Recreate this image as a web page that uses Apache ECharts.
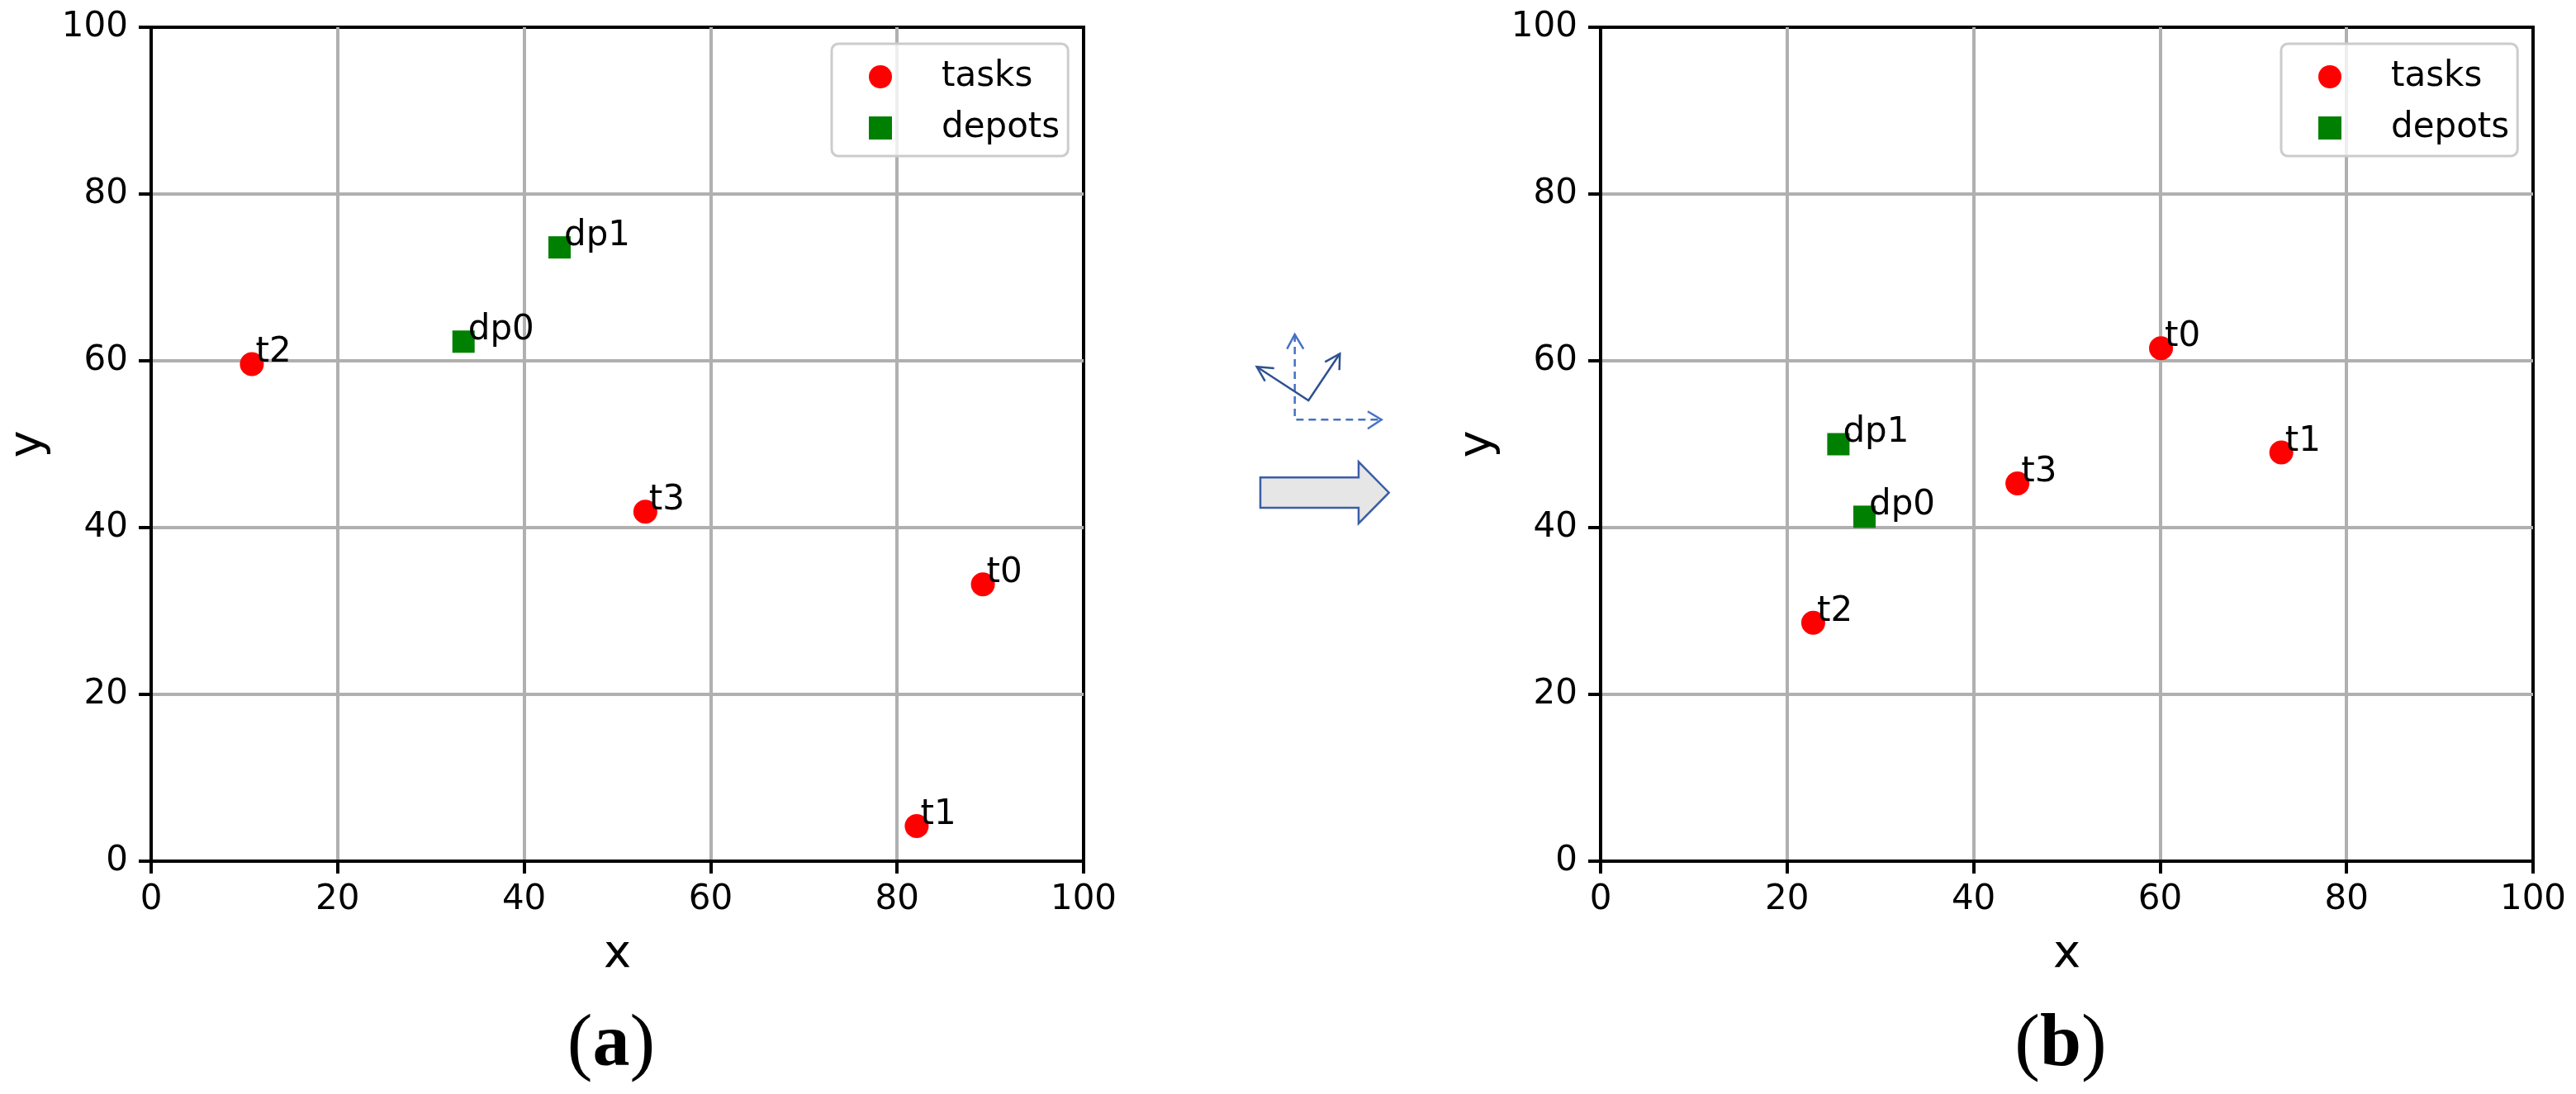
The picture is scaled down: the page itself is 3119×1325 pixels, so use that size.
<!DOCTYPE html>
<html>
<head>
<meta charset="utf-8">
<script src="https://cdn.jsdelivr.net/npm/echarts@6.0.0/dist/echarts.min.js"></script>
<style>
  html, body { margin: 0; padding: 0; background: #fff; }
  #main { width: 3119px; height: 1325px; }
</style>
</head>
<body>
<div id="main"></div>
<script>
// (a) before the transform
var taskNames = ['t0', 't1', 't2', 't3'];
var depotNames = ['dp0', 'dp1'];
var tasksAX = [89.2, 82.1, 10.8, 53.0];
var tasksAY = [33.2, 4.2, 59.6, 41.9];
var depotsAX = [33.5, 43.8];
var depotsAY = [62.3, 73.6];
// (b) after the transform
var tasksBX = [60.1, 73.0, 22.8, 44.7];
var tasksBY = [61.5, 49.0, 28.6, 45.3];
var depotsBX = [28.3, 25.5];
var depotsBY = [41.3, 50.0];
var axisTicks = [0, 20, 40, 60, 80, 100];
var panelLabels = ['a', 'b'];

var FONT = 'DejaVu Sans';
var gridLeft = [183, 1938];

function points(xs, ys, names) {
    return xs.map(function (x, i) { return { name: names[i], value: [x, ys[i]] }; });
}

function xAxisFor(idx) {
    return {
        gridIndex: idx, type: 'value',
        min: axisTicks[0], max: axisTicks[axisTicks.length - 1], interval: axisTicks[1] - axisTicks[0],
        name: 'x', nameLocation: 'middle', nameGap: 85,
        nameTextStyle: { fontFamily: FONT, fontSize: 56, color: '#000', lineHeight: 56 },
        axisLine: { show: true, lineStyle: { color: '#000', width: 4 } },
        axisTick: { show: true, length: 15, lineStyle: { color: '#000', width: 4 } },
        axisLabel: { fontFamily: FONT, fontSize: 42, color: '#000', margin: 26, lineHeight: 42 },
        splitLine: { show: true, showMinLine: false, showMaxLine: false, lineStyle: { color: '#b0b0b0', width: 4 } }
    };
}

function yAxisFor(idx) {
    return {
        gridIndex: idx, type: 'value',
        min: axisTicks[0], max: axisTicks[axisTicks.length - 1], interval: axisTicks[1] - axisTicks[0],
        name: 'y', nameLocation: 'middle', nameGap: 121,
        nameTextStyle: { fontFamily: FONT, fontSize: 56, color: '#000', lineHeight: 56 },
        axisLine: { show: true, lineStyle: { color: '#000', width: 4 } },
        axisTick: { show: true, length: 15, lineStyle: { color: '#000', width: 4 } },
        axisLabel: { fontFamily: FONT, fontSize: 42, color: '#000', margin: 28 },
        splitLine: { show: true, showMinLine: false, showMaxLine: false, lineStyle: { color: '#b0b0b0', width: 4 } }
    };
}

function pointLabel(px, py) {
    return {
        show: true, position: [px, py], align: 'left', verticalAlign: 'bottom',
        formatter: '{b}', fontFamily: FONT, fontSize: 42, lineHeight: 42, color: '#000'
    };
}

function scatterSeries(name, idx, data, symbol, size, color) {
    return {
        name: name, type: 'scatter', xAxisIndex: idx, yAxisIndex: idx,
        symbol: symbol, symbolSize: size, data: data,
        itemStyle: { color: color, opacity: 1 },
        label: symbol === 'circle' ? pointLabel(19, 22) : pointLabel(19, 21),
        emphasis: { disabled: true }
    };
}

function legendFor(idx) {
    return {
        orient: 'vertical', left: gridLeft[idx] + 824, top: 53,
        padding: [19, 10, 13, 45], itemGap: 20, itemWidth: 28, itemHeight: 28,
        backgroundColor: 'rgba(255,255,255,0.8)', borderColor: '#cccccc', borderWidth: 3, borderRadius: 8,
        textStyle: { fontFamily: FONT, fontSize: 42, color: '#000', lineHeight: 40, padding: [0, 0, 0, 55] },
        data: [{ name: 'tasks', icon: 'circle' }, { name: 'depots', icon: 'rect' }],
        selectedMode: false
    };
}

function panelLabel(cx, letter) {
    return {
        type: 'text', x: cx, y: 1267,
        style: {
            text: '{p|(}{b|' + letter + '}{p|)}', align: 'center', verticalAlign: 'middle',
            rich: {
                p: { fontFamily: 'Liberation Serif', fontSize: 92, fill: '#000' },
                b: { fontFamily: 'Liberation Serif', fontSize: 90, fontWeight: 'bold', fill: '#000' }
            }
        }
    };
}

// little sketch between the panels: rotated frame -> block arrow
var dashBlue = '#4472c4', darkBlue = '#2f528f';
function pl(pts, color, dash) {
    return {
        type: 'polyline', shape: { points: pts },
        style: { stroke: color, lineWidth: 2.5, fill: null, lineDash: dash || null, lineCap: 'butt' }
    };
}
var sketch = [
    pl([[1567.7, 405], [1567.7, 508.3], [1672.7, 508.3]], dashBlue, [9, 6]),
    pl([[1558.3, 422.7], [1567.7, 405], [1578.3, 422.7]], dashBlue),
    pl([[1656, 498.3], [1672.7, 508.3], [1656, 519.3]], dashBlue),
    pl([[1521.7, 444.3], [1584.3, 485], [1622.3, 428.3]], darkBlue),
    pl([[1542.7, 446], [1521.7, 444.3], [1531.7, 461.7]], darkBlue),
    pl([[1604.3, 438.3], [1622.3, 428.3], [1621.7, 448.3]], darkBlue),
    {
        type: 'polygon',
        shape: { points: [[1526, 578.3], [1645, 578.3], [1645, 559.3], [1681.7, 596.7], [1645, 634], [1645, 615], [1526, 615]] },
        style: { fill: '#e6e6e6', stroke: '#3a5ea8', lineWidth: 2.5 }
    }
];

var chart = echarts.init(document.getElementById('main'), null, { renderer: 'canvas' });
chart.setOption({
    animation: false,
    backgroundColor: '#fff',
    grid: gridLeft.map(function (l) {
        return { left: l, top: 33, width: 1129, height: 1010, show: true, borderColor: '#000', borderWidth: 4, backgroundColor: 'transparent' };
    }),
    xAxis: [xAxisFor(0), xAxisFor(1)],
    yAxis: [yAxisFor(0), yAxisFor(1)],
    legend: [legendFor(0), legendFor(1)],
    series: [
        scatterSeries('tasks', 0, points(tasksAX, tasksAY, taskNames), 'circle', 29, '#ff0000'),
        scatterSeries('depots', 0, points(depotsAX, depotsAY, depotNames), 'rect', 27, '#008000'),
        scatterSeries('tasks', 1, points(tasksBX, tasksBY, taskNames), 'circle', 29, '#ff0000'),
        scatterSeries('depots', 1, points(depotsBX, depotsBY, depotNames), 'rect', 27, '#008000')
    ],
    graphic: sketch.concat([
        panelLabel(gridLeft[0] + 557, panelLabels[0]),
        panelLabel(gridLeft[1] + 557, panelLabels[1])
    ])
});
</script>
</body>
</html>
